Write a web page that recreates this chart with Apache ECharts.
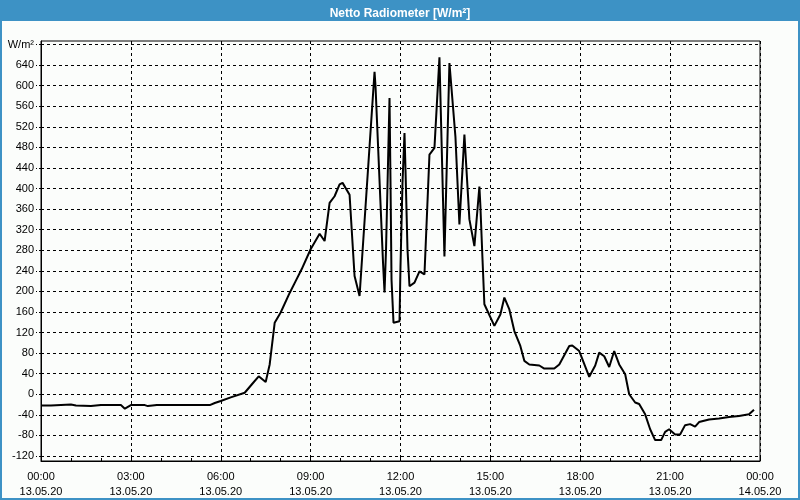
<!DOCTYPE html>
<html>
<head>
<meta charset="utf-8">
<script src="https://cdn.jsdelivr.net/npm/echarts@6/dist/echarts.min.js"></script>
<style>
html,body{margin:0;padding:0;background:#fbfdfb;}
#chart{width:800px;height:500px;}
</style>
</head>
<body>
<div id="chart"></div>
<script>
// ---- data ----
const times = ["00:00","00:20","00:40","01:00","01:10","01:40","02:00","02:40","02:48","03:00","03:28","03:34","03:52","04:40","05:38","05:48","06:00","06:20","06:48","07:02","07:16","07:30","07:38","07:48","08:00","08:18","08:30","08:42","09:00","09:18","09:28","09:38","09:48","09:58","10:04","10:18","10:28","10:38","11:08","11:10","11:25","11:28","11:31","11:38","11:40","11:42","11:46","11:58","12:00","12:04","12:08","12:10","12:14","12:18","12:28","12:38","12:48","12:58","13:08","13:18","13:28","13:38","13:50","13:58","14:08","14:18","14:28","14:38","14:40","14:44","14:48","15:08","15:20","15:28","15:38","15:48","16:00","16:08","16:18","16:38","16:48","17:08","17:18","17:38","17:44","17:58","18:18","18:30","18:38","18:48","18:58","19:08","19:18","19:30","19:38","19:50","19:58","20:10","20:20","20:30","20:42","20:50","20:58","21:10","21:20","21:30","21:40","21:50","21:58","22:18","22:38","22:58","23:18","23:38","23:48"];
const values = [-22,-22,-21,-20,-22,-23,-21,-21,-28,-21,-21,-23,-21,-21,-21,-17,-13,-6,3,19,35,24,58,139,159,197,220,243,282,312,298,372,385,408,411,388,230,191,627,598,256,198,281,576,411,223,139,142,249,411,508,437,282,210,217,239,233,466,479,655,268,644,501,330,505,340,288,404,366,268,175,133,155,188,165,123,94,65,58,56,50,50,58,94,95,84,34,56,81,74,53,84,58,39,0,-16,-19,-39,-68,-89,-89,-73,-68,-78,-78,-60,-58,-63,-54,-49,-47,-44,-42,-39,-30];
const xTickTimes = ["00:00","03:00","06:00","09:00","12:00","15:00","18:00","21:00","00:00"];
const xTickDates = ["13.05.20","13.05.20","13.05.20","13.05.20","13.05.20","13.05.20","13.05.20","13.05.20","14.05.20"];
const yTicks = [-120,-80,-40,0,40,80,120,160,200,240,280,320,360,400,440,480,520,560,600,640,680];
const yUnit = "W/m²";
const titleText = "Netto Radiometer [W/m²]";

function toMin(t){const p=t.split(':');return (+p[0])*60+(+p[1]);}
const seriesData = times.map((t,i)=>[toMin(t), values[i]]);

const chart = echarts.init(document.getElementById('chart'), null, {renderer:'canvas'});
const blue = '#3d92c5';
const font = 'Liberation Sans';
chart.setOption({
  animation:false,
  backgroundColor:'#fbfdfb',
  graphic:[
    {type:'rect', silent:true, z:-10, shape:{x:1,y:1,width:798,height:498}, style:{fill:'#fbfdfb', stroke:blue, lineWidth:2}},
    {type:'rect', silent:true, z:-9, shape:{x:0,y:0,width:800,height:21}, style:{fill:blue}}
  ],
  title:{
    text:titleText, left:'center', top:3,
    textStyle:{color:'#fff', fontFamily:font, fontWeight:'bold', fontSize:12}
  },
  grid:{left:41,right:40,top:41,bottom:39,show:true,borderColor:'#000',borderWidth:1,backgroundColor:'transparent'},
  xAxis:{
    type:'value', min:0, max:1440, interval:180,
    axisLine:{show:true,onZero:false,lineStyle:{color:'#000',width:1}},
    axisTick:{show:true,inside:true,length:3,lineStyle:{color:'#000'}},
    minorTick:{show:true,splitNumber:3,length:3,lineStyle:{color:'#000'}},
    splitLine:{show:true,lineStyle:{color:'#000',type:[3,3],width:1}},
    axisLabel:{
      color:'#000', fontFamily:font, fontSize:11, lineHeight:15, margin:8,
      formatter:function(v){const i=Math.round(v/180);return xTickTimes[i]+'\n'+xTickDates[i];}
    }
  },
  yAxis:{
    type:'value', min:-129.7, max:686.8,
    axisLine:{show:true,onZero:false,lineStyle:{color:'#000',width:1}},
    axisTick:{show:true,length:5,customValues:yTicks,lineStyle:{color:'#000',type:[2,2]}},
    splitLine:{show:true,lineStyle:{color:'#000',type:[3,3],width:1}},
    axisLabel:{
      customValues:yTicks, color:'#000', fontFamily:font, fontSize:11, margin:7,
      formatter:function(v){return v===680?yUnit:String(v);}
    }
  },
  series:[{
    type:'line', data:seriesData, showSymbol:false, symbol:'none',
    lineStyle:{color:'#000',width:2}, clip:true
  }]
});
</script>
</body>
</html>
